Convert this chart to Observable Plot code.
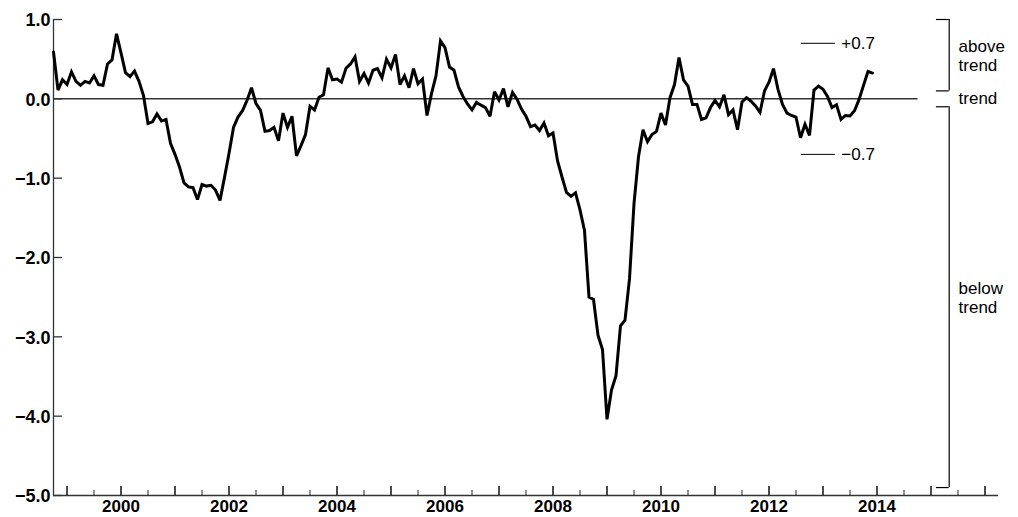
<!DOCTYPE html>
<html>
<head>
<meta charset="utf-8">
<script src="https://cdn.jsdelivr.net/npm/d3@7"></script>
<script src="https://cdn.jsdelivr.net/npm/@observablehq/plot@0.6"></script>
<style>
  html, body { margin: 0; padding: 0; background: #fff; }
  #chart { width: 1018px; height: 517px; }
</style>
</head>
<body>
<div id="chart"></div>
<script>
// Monthly index values, starting October 1998
const startYear = 1998;
const startMonth = 10;
const values = [
  0.59, 0.11, 0.24, 0.18, 0.34, 0.22, 0.17, 0.22, 0.20, 0.29, 0.18, 0.17,
  0.44, 0.49, 0.82, 0.58, 0.33, 0.28, 0.35, 0.22, 0.04, -0.31, -0.29, -0.19,
  -0.28, -0.26, -0.56, -0.70, -0.86, -1.06, -1.11, -1.12, -1.27, -1.08, -1.10, -1.09,
  -1.15, -1.28, -0.99, -0.69, -0.36, -0.23, -0.15, -0.02, 0.14, -0.06, -0.145, -0.41,
  -0.40, -0.36, -0.53, -0.18, -0.36, -0.22, -0.72, -0.59, -0.45, -0.095, -0.14, 0.02,
  0.05, 0.39, 0.24, 0.25, 0.21, 0.385, 0.44, 0.53, 0.22, 0.32, 0.20, 0.36,
  0.38, 0.265, 0.50, 0.39, 0.56, 0.18, 0.29, 0.14, 0.38, 0.19, 0.25, -0.21,
  0.065, 0.29, 0.73, 0.645, 0.40, 0.36, 0.15, 0.03, -0.065, -0.14, -0.045, -0.08,
  -0.11, -0.22, 0.09, -0.015, 0.13, -0.10, 0.08, -0.005, -0.13, -0.22, -0.35, -0.33,
  -0.40, -0.305, -0.465, -0.43, -0.78, -0.985, -1.18, -1.23, -1.185, -1.40, -1.66, -2.50,
  -2.53, -2.98, -3.16, -4.04, -3.67, -3.49, -2.86, -2.79, -2.27, -1.32, -0.73, -0.39,
  -0.54, -0.45, -0.41, -0.18, -0.33, 0.015, 0.18, 0.52, 0.24, 0.16, -0.07, -0.07,
  -0.26, -0.24, -0.11, -0.02, -0.10, 0.05, -0.20, -0.14, -0.39, -0.04, 0.015, -0.03,
  -0.09, -0.17, 0.10, 0.21, 0.38, 0.12, -0.07, -0.18, -0.21, -0.23, -0.49, -0.32,
  -0.46, 0.11, 0.16, 0.12, 0.03, -0.11, -0.075, -0.26, -0.21, -0.215, -0.15, -0.01,
  0.17, 0.345, 0.325
];

// Axis configuration
const xDomain = [1998.75, 2016.25];
const yDomain = [-5, 1];
const yTicks = [1, 0, -1, -2, -3, -4, -5];
const yearTicks = d3.range(1999, 2017);
const halfYearTicks = d3.range(1999.5, 2016, 1);
const labelYears = [2000, 2002, 2004, 2006, 2008, 2010, 2012, 2014];

// Annotations
const refLevels = [0.7, -0.7];
const refLabels = ["+0.7", "\u22120.7"];
const refLineX = [2012.6, 2013.23];
const refLabelX = 2013.34;
const trendLineEnd = 2014.76;
const bracketX = [2015.10, 2015.337];
const bracketTextX = 2015.51;
const brackets = [
  {y1: 0.1, y2: 1.0, label: "above\ntrend", ly: 0.55},
  {y1: -4.9, y2: -0.1, label: "below\ntrend", ly: -2.5}
];
const trendLabel = {label: "trend", ly: 0};

const series = values.map((v, i) => ({x: startYear + (startMonth - 1) / 12 + i / 12, v}));

const fmt = d => (d < 0 ? "\u2212" : "") + Math.abs(d).toFixed(1);
const font = "'Liberation Sans', Arial, Helvetica, sans-serif";

const chart = Plot.plot({
  width: 1018,
  height: 517,
  marginLeft: 53,
  marginRight: 20,
  marginTop: 19,
  marginBottom: 22,
  style: {fontFamily: font, background: "#fff", color: "#000", overflow: "visible"},
  x: {type: "linear", domain: xDomain, axis: null, label: null},
  y: {domain: yDomain, axis: null, label: null},
  marks: [
    // zero / trend line
    Plot.ruleY([0], {x1: xDomain[0], x2: trendLineEnd, stroke: "#333", strokeWidth: 1.5}),
    // y-axis line & x-axis line
    Plot.ruleX([xDomain[0]], {y1: yDomain[0], y2: yDomain[1], stroke: "#333", strokeWidth: 1.3}),
    Plot.ruleY([yDomain[0]], {x1: xDomain[0], x2: xDomain[1], stroke: "#333", strokeWidth: 1.3}),
    // inward y ticks
    Plot.tickY(yTicks, {y: d => d, insetRight: 936, stroke: "#333", strokeWidth: 1.3}),
    // inward x ticks
    Plot.tickX(yearTicks, {x: d => d, insetTop: 467, stroke: "#111", strokeWidth: 1.5}),
    Plot.tickX(halfYearTicks, {x: d => d, insetTop: 471, stroke: "#333", strokeWidth: 1.1}),
    // tick labels
    Plot.axisY({ticks: yTicks, tickSize: 0, tickPadding: 3, tickFormat: fmt, fontSize: 18, fontWeight: "bold", dy: 1, fill: "#000", label: null}),
    Plot.axisX({ticks: labelYears, tickSize: 0, tickPadding: 4, tickFormat: d => String(d), fontSize: 17, fontWeight: "bold", fill: "#000", label: null}),
    // +/-0.7 reference markers
    Plot.ruleY(refLevels, {y: d => d, x1: refLineX[0], x2: refLineX[1], stroke: "#000", strokeWidth: 1}),
    Plot.text(refLevels, {y: d => d, x: refLabelX, text: (d, i) => refLabels[i], textAnchor: "start", fontSize: 17, fill: "#000"}),
    // brackets
    Plot.ruleX(brackets, {x: bracketX[1], y1: "y1", y2: "y2", stroke: "#000", strokeWidth: 1.2}),
    Plot.ruleY(brackets, {y: "y1", x1: bracketX[0], x2: bracketX[1], stroke: "#000", strokeWidth: 1.2}),
    Plot.ruleY(brackets, {y: "y2", x1: bracketX[0], x2: bracketX[1], stroke: "#000", strokeWidth: 1.2}),
    Plot.text(brackets, {x: bracketTextX, y: "ly", text: "label", textAnchor: "start", lineHeight: 1.15, fontSize: 17, fill: "#000"}),
    Plot.text([trendLabel], {x: bracketTextX, y: "ly", text: "label", textAnchor: "start", fontSize: 17, fill: "#000"}),
    // data line
    Plot.line(series, {x: "x", y: "v", stroke: "#000", strokeWidth: 3, strokeLinejoin: "miter", strokeMiterlimit: 3})
  ]
});
document.getElementById("chart").appendChild(chart);
</script>
</body>
</html>
